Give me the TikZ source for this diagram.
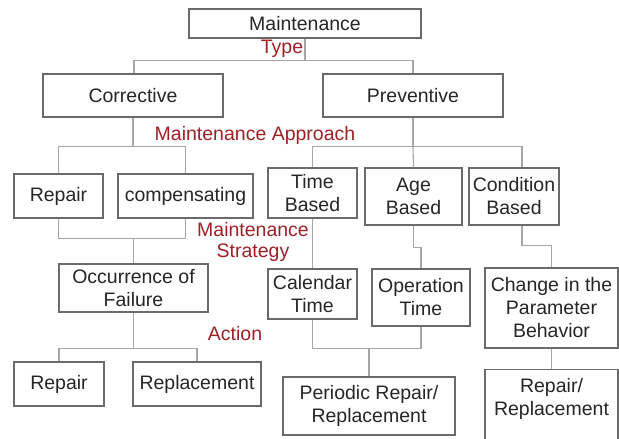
\documentclass[tikz,border=0pt]{standalone}
\usepackage{xcolor}
\usepackage{fontspec}
\usepackage{tikz}
\usetikzlibrary{positioning,calc}
\setmainfont{Liberation Sans}
\definecolor{boxgray}{HTML}{6A6A6A}
\definecolor{linkgray}{HTML}{A6A6A6}
\definecolor{typered}{HTML}{9E2127}

\begin{document}
\begin{tikzpicture}[x=1pt,y=-1pt,
  box/.style={draw=boxgray,line width=1.3pt,fill=white,inner sep=0pt,align=center,
    font=\fontsize{19.5}{23}\selectfont,text=black!85},
  lbl/.style={inner sep=0pt,align=center,font=\fontsize{19.5}{20.5}\selectfont,text=typered},
  link/.style={draw=linkgray,line width=1.1pt}
]
\clip (0,0) rectangle (619,439);
\fill[white] (0,0) rectangle (619,439);

% top levels
\node[box,minimum width=232pt,minimum height=29pt] (maint) at (305,23.5) {Maintenance};
\node[box,minimum width=180pt,minimum height=43pt] (corr) at (133,95.5) {Corrective};
\node[box,minimum width=180pt,minimum height=43pt] (prev) at (413,95.5) {Preventive};

% approach
\node[box,minimum width=89pt,minimum height=44pt] (repA) at (58.5,196) {Repair};
\node[box,minimum width=135pt,minimum height=44pt] (comp) at (185.5,196) {compensating};
\node[box,minimum width=89pt,minimum height=50pt] (timeb) at (312.5,193) {Time\\Based};
\node[box,minimum width=97pt,minimum height=57pt] (ageb) at (413.5,196.5) {Age\\Based};
\node[box,minimum width=90pt,minimum height=57pt] (condb) at (514,196.5) {Condition\\Based};

% strategy
\node[box,minimum width=149pt,minimum height=48pt] (occ) at (133.5,288) {Occurrence of\\Failure};
\node[box,minimum width=89pt,minimum height=50pt] (cal) at (312.5,294) {Calendar\\Time};
\node[box,minimum width=98pt,minimum height=57pt] (oper) at (421,297.5) {Operation\\Time};
\node[box,minimum width=133pt,minimum height=80pt] (chg) at (551.5,308) {Change in the\\Parameter\\Behavior};

% action
\node[box,minimum width=90pt,minimum height=44pt] (repB) at (59,384) {Repair};
\node[box,minimum width=128pt,minimum height=44pt] (repl) at (197,384) {Replacement};
\node[box,minimum width=172pt,minimum height=58pt] (peri) at (369,406) {Periodic Repair/\\Replacement};
\node[box,anchor=north,minimum width=133pt,inner ysep=9pt,text depth=70pt] (rr) at (551.5,369) {Repair/\\Replacement};

% red labels
\node[lbl] (lType) at (282,49) {Type};
\node[lbl] (lAppr) at (255,135) {Maintenance Approach};
\node[lbl] (lStrat) at (253,242) {Maintenance\\Strategy};
\node[lbl] (lAct) at (235,334) {Action};

% connectors
\draw[link] (maint.south) -- ++(0,22) coordinate (bus1);
\draw[link] ([xshift=1pt]corr.north) |- (bus1) -| (prev.north);
\draw[link] (corr.south) -- ++(0,29) coordinate (bus2);
\draw[link] (repA.north) |- (bus2) -| (comp.north);
\draw[link] (prev.south) -- ++(0,29) coordinate (bus3);
\draw[link] (timeb.north) |- (bus3) -| ([xshift=8pt]condb.north);
\draw[link] (bus3) -- (ageb.north);
\draw[link] (repA.south) -- ++(0,20) coordinate (bus4) -| (comp.south);
\draw[link] (occ.north) -- (occ.north |- bus4);
\draw[link] (timeb.south) -- (cal.north);
\draw[link] (ageb.south) -- ++(0,22) -| (oper.north);
\draw[link] ([xshift=8pt]condb.south) -- ++(0,20) -| (chg.north);
\draw[link] (occ.south) -- ++(0,36) coordinate (bus5);
\draw[link] (repB.north) |- (bus5) -| (repl.north);
\draw[link] (cal.south) -- ++(0,29) coordinate (bus6) -| (oper.south);
\draw[link] (peri.north) -- (peri.north |- bus6);
\draw[link] (chg.south) -- (rr.north);
\end{tikzpicture}
\end{document}
